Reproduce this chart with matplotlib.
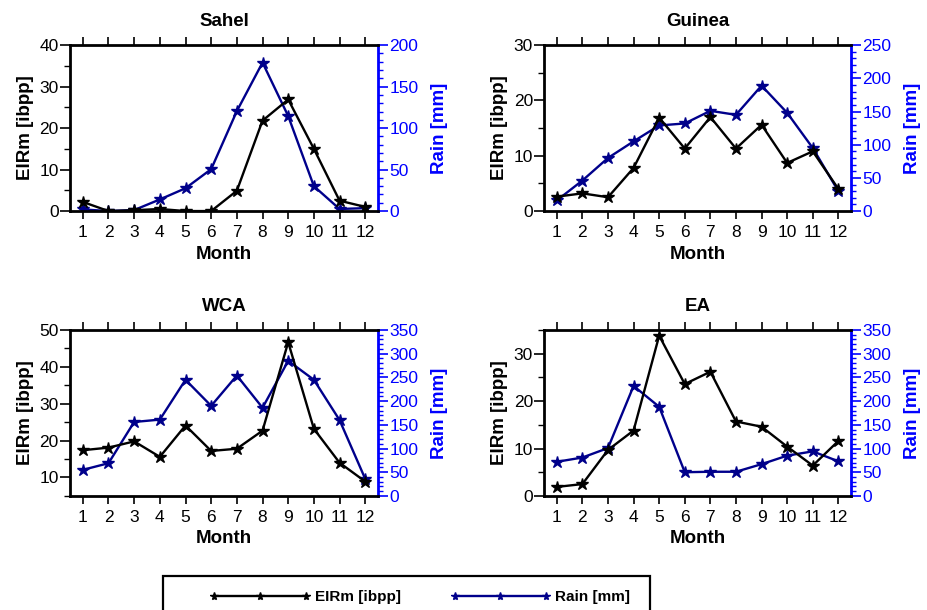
import matplotlib.pyplot as plt
from matplotlib.ticker import MultipleLocator
from matplotlib.patches import Rectangle
import numpy as np

plt.rcParams['font.family'] = ['Liberation Sans', 'DejaVu Sans']

months = np.arange(1, 13)
month_labels = [str(m) for m in months]

regions = ["Sahel", "Guinea", "WCA", "EA"]

sahel_eir = [2.2, 0.0, 0.2, 0.5, 0.0, 0.0, 4.9, 21.8, 26.9, 15.0, 2.5, 1.0]
sahel_rain = [2.0, 0.0, 1.2, 14.0, 27.5, 50.5, 120.5, 179.0, 114.5, 30.0, 2.5, 3.5]

guinea_eir = [2.6, 3.2, 2.5, 7.8, 16.9, 11.3, 17.0, 11.3, 15.6, 8.7, 10.8, 4.0]
guinea_rain = [16, 46, 80, 105, 129, 132, 151, 145, 189, 148, 95, 30]

wca_eir = [17.4, 18.1, 19.8, 15.6, 24.1, 17.2, 17.8, 22.7, 46.7, 23.2, 14.0, 8.9]
wca_rain = [55, 69, 156, 161, 245, 190, 254, 186, 285, 245, 160, 36]

ea_eir = [1.9, 2.5, 9.7, 13.8, 33.8, 23.6, 26.2, 15.7, 14.6, 10.4, 6.4, 11.6]
ea_rain = [72, 81, 101, 232, 188, 50, 51, 51, 67, 85, 94, 73]

eir_data = [sahel_eir, guinea_eir, wca_eir, ea_eir]
rain_data = [sahel_rain, guinea_rain, wca_rain, ea_rain]
eir_lims = [(0, 40), (0, 30), (5, 50), (0, 35)]
rain_lims = [(0, 200), (0, 250), (0, 350), (0, 350)]

# axes boxes in figure fractions (left, bottom, width, height)
boxes = [
    (0.0754, 0.654, 0.332, 0.272),
    (0.5862, 0.654, 0.331, 0.272),
    (0.0754, 0.187, 0.332, 0.272),
    (0.5862, 0.187, 0.331, 0.272),
]

rain_line = '#00008b'
rain_text = '#0000ff'
tick_fs = 12.5
label_fs = 13.5

fig = plt.figure(figsize=(9.28, 6.1), dpi=100)

handles = []
for i, name in enumerate(regions):
    ax = fig.add_axes(boxes[i])
    ax2 = ax.twinx()
    # EIR on top of rain
    ax.set_zorder(ax2.get_zorder() + 1)
    ax.patch.set_visible(False)

    h2, = ax2.plot(months, rain_data[i], color=rain_line, lw=1.7,
                   marker='*', ms=9, label='Rain [mm]')
    h1, = ax.plot(months, eir_data[i], color='black', lw=1.7,
                  marker='*', ms=9, label='EIRm [ibpp]')
    if i == 0:
        handles = [h1, h2]

    ax.set_xlim(0.5, 12.5)
    ax.set_ylim(*eir_lims[i])
    ax2.set_ylim(*rain_lims[i])
    ax.set_xticks(months)
    ax.set_xticklabels(month_labels)
    ax.yaxis.set_major_locator(MultipleLocator(10))
    ax.yaxis.set_minor_locator(MultipleLocator(5))
    ax2.yaxis.set_major_locator(MultipleLocator(50))
    ax2.yaxis.set_minor_locator(MultipleLocator(10))

    ax.tick_params(axis='x', which='major', direction='out', top=True,
                   length=6, width=1.2, labelsize=tick_fs, pad=4)
    ax.tick_params(axis='y', which='major', direction='out', length=7,
                   width=1.2, labelsize=tick_fs, pad=1)
    ax.tick_params(axis='y', which='minor', direction='out', length=4, width=1.0)
    ax2.tick_params(axis='y', which='major', direction='out', length=7,
                    width=1.2, colors=rain_text, labelsize=tick_fs, pad=1)
    ax2.tick_params(axis='y', which='minor', direction='out', length=3.5,
                    width=1.0, colors=rain_text)

    for s in ['left', 'top', 'bottom']:
        ax.spines[s].set_linewidth(2.0)
        ax2.spines[s].set_visible(False)
    ax.spines['right'].set_visible(False)
    ax2.spines['right'].set_color(rain_text)
    ax2.spines['right'].set_linewidth(2.0)

    ax.set_title(name, fontsize=label_fs, fontweight='bold', pad=14)
    ax.set_xlabel('Month', fontsize=label_fs, fontweight='bold', labelpad=4)
    ax.set_ylabel('EIRm [ibpp]', fontsize=label_fs, fontweight='bold', labelpad=4)
    ax2.set_ylabel('Rain [mm]', fontsize=label_fs, fontweight='bold',
                   color=rain_text, labelpad=9)

# legend box, cut off at the bottom edge like the original
fig.patches.append(Rectangle((163 / 928, -0.06), (650 - 163) / 928, 0.06 + 1 - 576 / 610,
                             transform=fig.transFigure, fill=False,
                             edgecolor='black', lw=1.6))
fig.legend(handles=handles, loc='center left', bbox_to_anchor=(0.226, 0.021),
           ncol=2, frameon=False, numpoints=3, handlelength=6.6,
           handletextpad=0.3, columnspacing=3.2, borderpad=0, borderaxespad=0,
           markerscale=0.65, prop={'size': 11, 'weight': 'bold'})

fig.savefig('out.png', dpi=100)
